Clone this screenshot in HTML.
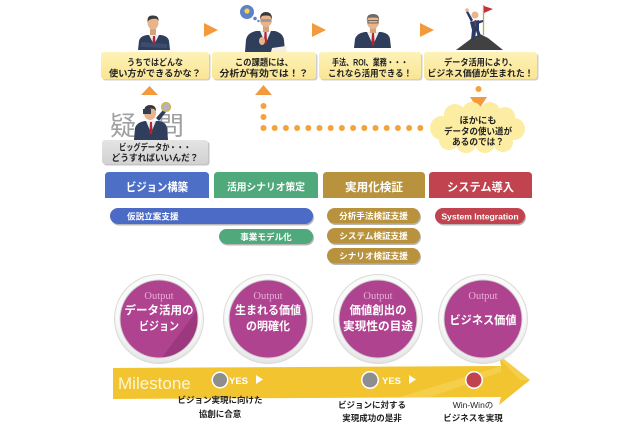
<!DOCTYPE html>
<html><head><meta charset="utf-8"><style>
html,body{margin:0;padding:0;background:#fff;}
svg{display:block}
text{font-family:"Liberation Sans","Noto Sans CJK JP",sans-serif;font-weight:bold;}
</style></head><body>
<svg width="640" height="426" viewBox="0 0 640 426" xmlns="http://www.w3.org/2000/svg">
<defs>
<linearGradient id="yb" x1="0" y1="0" x2="0" y2="1"><stop offset="0" stop-color="#FDF2B8"/><stop offset="1" stop-color="#FAE594"/></linearGradient>
<linearGradient id="gb" x1="0" y1="0" x2="0" y2="1"><stop offset="0" stop-color="#E4E4E4"/><stop offset="1" stop-color="#D2D2D2"/></linearGradient>
<radialGradient id="ring" cx="0.5" cy="0.4" r="0.6"><stop offset="0.8" stop-color="#FAFAFA"/><stop offset="1" stop-color="#E2E2E2"/></radialGradient>
<clipPath id="c1"><circle cx="159" cy="319" r="38.5"/></clipPath>
</defs>

<!-- person 1 -->
<g>
<path d="M138,50 L139,41 Q140,36 147,35 L161,35 Q168,36 169,41 L170,50 Z" fill="#2F3E5A"/>
<polygon points="149,35 159,35 154,45" fill="#E8EEF6"/>
<polygon points="153,36 155,36 155.6,44 154,46.5 152.4,44" fill="#B3262E"/>
<path d="M141,42 L167,44 L167,48 L141,47 Z" fill="#3C4E70"/>
<rect x="150" y="29" width="6" height="6" fill="#D9A177"/>
<ellipse cx="153" cy="23" rx="5.5" ry="6.5" fill="#E9B48A"/>
<path d="M147.5,22 Q147,15 153,15.5 Q159,15.5 158.5,21 L157,19 Q153,18 149,20 Z" fill="#3A3A3A"/>
</g>
<!-- person 2 -->
<g>
<circle cx="247" cy="12" r="7" fill="#5D82C8"/>
<circle cx="247" cy="11" r="2.6" fill="#F5D24A"/>
<circle cx="255" cy="18.5" r="1.8" fill="#5D82C8"/>
<circle cx="258.5" cy="21" r="1.2" fill="#5D82C8"/>
<path d="M245,52 L246,40 Q247,33 256,31 L275,31 Q283,33 284,40 L285,52 Z" fill="#2F3E5A"/>
<polygon points="260,31 271,31 265.5,44" fill="#E8EEF6"/>
<polygon points="264.5,32 266.5,32 267,42 265.5,45 264,42" fill="#B3262E"/>
<ellipse cx="262" cy="41" rx="3" ry="4" fill="#E9B48A"/>
<rect x="263" y="26" width="6" height="6" fill="#D9A177"/>
<ellipse cx="266" cy="20" rx="6" ry="7" fill="#E9B48A"/>
<path d="M260,19 Q260,12 266,12 Q272,12 272,19 L270,16 Q266,15 262,16 Z" fill="#3A3A3A"/>
<rect x="261" y="19" width="10" height="3" fill="#8895A8" opacity="0.8"/>
<polygon points="272,48 286,46 287,52 271,52" fill="#F4F1E4"/>
</g>
<!-- person 3 -->
<g>
<path d="M354,48 L355,39 Q357,33 365,32 L381,32 Q389,33 390,39 L391,48 Z" fill="#2F3E5A"/>
<polygon points="367,32 379,32 373,45" fill="#E8EEF6"/>
<polygon points="372,33 374,33 374.6,43 373,47 371.4,43" fill="#B3262E"/>
<rect x="370" y="27" width="6" height="6" fill="#D9A177"/>
<ellipse cx="373" cy="22" rx="6" ry="7" fill="#E9B48A"/>
<path d="M367,21 Q366,14 373,14 Q380,14 379,21 L378,18 Q373,17 368,18 Z" fill="#6A6A6A"/>
<rect x="368" y="20.5" width="10" height="2.5" fill="none" stroke="#555" stroke-width="0.8"/>
</g>
<!-- person 4 -->
<g>
<polygon points="456,50 472,38 480,34 488,38 503,50" fill="#414141"/>
<line x1="483.5" y1="5" x2="483.5" y2="35" stroke="#C9A24A" stroke-width="1.3"/>
<polygon points="484,6 493,9 484,13" fill="#C6303A"/>
<path d="M471,40 L472,30 L470,22 L479,20 L479,30 L481,36 L478,37 L476,31 L475,40 Z" fill="#2A3C66"/>
<path d="M471,22 L466,12 L468,11 L473,20 Z" fill="#2A3C66"/>
<path d="M478,21 L483,20 L483,22 L478,24 Z" fill="#2A3C66"/>
<circle cx="467" cy="10" r="1.8" fill="#E9B48A"/>
<circle cx="475" cy="15" r="3.5" fill="#E9B48A"/>
<polygon points="474.5,20 476,20 476,26 475,27" fill="#B3262E"/>
</g>

<!-- top right-pointing arrows -->
<polygon points="204,23 204,37 218,30" fill="#F39A3C"/>
<polygon points="312,23 312,37 326,30" fill="#F39A3C"/>
<polygon points="420,23 420,37 434,30" fill="#F39A3C"/>

<!-- top boxes -->
<rect x="102.5" y="53.5" width="108" height="27" rx="3" fill="#CFCFCF"/>
<rect x="101" y="52" width="108" height="27" rx="3" fill="url(#yb)"/>
<rect x="213.5" y="53.5" width="104" height="27" rx="3" fill="#CFCFCF"/>
<rect x="212" y="52" width="104" height="27" rx="3" fill="url(#yb)"/>
<rect x="320.5" y="53.5" width="102" height="27" rx="3" fill="#CFCFCF"/>
<rect x="319" y="52" width="102" height="27" rx="3" fill="url(#yb)"/>
<rect x="425.5" y="53.5" width="113" height="27" rx="3" fill="#CFCFCF"/>
<rect x="424" y="52" width="113" height="27" rx="3" fill="url(#yb)"/>
<g font-size="9" fill="#222" text-anchor="middle" lengthAdjust="spacingAndGlyphs">
<text x="155" y="65.5" textLength="56" lengthAdjust="spacingAndGlyphs">うちではどんな</text>
<text x="155" y="76.5" textLength="92" lengthAdjust="spacingAndGlyphs">使い方ができるかな？</text>
<text x="264" y="65.5" textLength="58" lengthAdjust="spacingAndGlyphs">この課題には、</text>
<text x="264" y="76.5" textLength="89" lengthAdjust="spacingAndGlyphs">分析が有効では！？</text>
<text x="370" y="65.5" textLength="76" lengthAdjust="spacingAndGlyphs">手法、ROI、業務・・・</text>
<text x="370" y="76.5" textLength="84" lengthAdjust="spacingAndGlyphs">これなら活用できる！</text>
<text x="480.5" y="65.5" textLength="73" lengthAdjust="spacingAndGlyphs">データ活用により、</text>
<text x="480.5" y="76.5" textLength="106" lengthAdjust="spacingAndGlyphs">ビジネス価値が生まれた！</text>
</g>

<!-- up arrows -->
<polygon points="141,95 158,95 149.5,86" fill="#F39A3C"/>
<polygon points="255,95 272,95 263.5,85" fill="#F39A3C"/>

<!-- dotted path -->
<g fill="#F6A23A">
<circle cx="263.5" cy="106" r="3"/>
<circle cx="263.5" cy="117" r="3"/>
<circle cx="263.5" cy="128" r="3"/>
<circle cx="274.7" cy="128" r="3"/>
<circle cx="285.9" cy="128" r="3"/>
<circle cx="297.1" cy="128" r="3"/>
<circle cx="308.3" cy="128" r="3"/>
<circle cx="319.5" cy="128" r="3"/>
<circle cx="330.7" cy="128" r="3"/>
<circle cx="341.9" cy="128" r="3"/>
<circle cx="353.1" cy="128" r="3"/>
<circle cx="364.3" cy="128" r="3"/>
<circle cx="375.5" cy="128" r="3"/>
<circle cx="386.7" cy="128" r="3"/>
<circle cx="397.9" cy="128" r="3"/>
<circle cx="409.1" cy="128" r="3"/>
<circle cx="420.3" cy="128" r="3"/>
<circle cx="478.5" cy="89" r="3"/>
</g>
<polygon points="470,97 487,97 478.5,110" fill="#F39A3C"/>

<!-- cloud -->
<g fill="#FCEDA2">
<ellipse cx="478" cy="128" rx="38" ry="18"/>
<circle cx="442" cy="128" r="12"/>
<circle cx="455" cy="115" r="11"/>
<circle cx="472" cy="112" r="10"/>
<circle cx="490" cy="112" r="10"/>
<circle cx="505" cy="117" r="10"/>
<circle cx="514" cy="129" r="11"/>
<circle cx="503" cy="142" r="10"/>
<circle cx="485" cy="143" r="10"/>
<circle cx="466" cy="143" r="10"/>
<circle cx="449" cy="140" r="10"/>
</g>
<g font-size="9" fill="#222" text-anchor="middle">
<text x="478" y="123.5" textLength="37" lengthAdjust="spacingAndGlyphs">ほかにも</text>
<text x="478" y="134.5" textLength="68" lengthAdjust="spacingAndGlyphs">データの使い道が</text>
<text x="478" y="145" textLength="52" lengthAdjust="spacingAndGlyphs">あるのでは？</text>
</g>

<!-- 疑問 person -->
<g>
<text x="110" y="135" font-size="26" fill="#A0A0A0" style="font-weight:normal">疑</text>
<text x="158" y="135" font-size="26" fill="#A0A0A0" style="font-weight:normal">問</text>
<path d="M134,140 L135,128 Q137,122 145,121 L159,121 Q166,122 167,128 L168,140 Z" fill="#2F3E5A"/>
<polygon points="146,121 156,121 151,133" fill="#E8EEF6"/>
<polygon points="150,122 152,122 152.5,132 151,135 149.5,132" fill="#B3262E"/>
<ellipse cx="150" cy="113" rx="6" ry="7" fill="#E9B48A"/>
<path d="M144,112 Q144,105 150,105 Q156,105 156,111 L154,109 Q150,108 146,110 Z" fill="#3A3A3A"/>
<path d="M156,118 L163,110 L166,112 L159,121 Z" fill="#2F3E5A"/>
<rect x="143" y="109" width="8" height="5" fill="#2F3E5A"/>
<circle cx="166" cy="107" r="4.5" fill="#B5B5B5" stroke="#D6B24A" stroke-width="1.2"/>
</g>
<!-- gray box -->
<rect x="103.5" y="141.5" width="106" height="24" rx="3" fill="#C4C4C4"/>
<rect x="102" y="140" width="106" height="24" rx="3" fill="url(#gb)"/>
<g font-size="9" fill="#222" text-anchor="middle">
<text x="155" y="150.5" textLength="72" lengthAdjust="spacingAndGlyphs">ビッグデータか・・・</text>
<text x="155" y="161" textLength="87" lengthAdjust="spacingAndGlyphs">どうすればいいんだ？</text>
</g>

<!-- phase headers -->
<path d="M105,198 L105,176 Q105,172 109,172 L205,172 Q209,172 209,176 L209,198 Z" fill="#4D6FC6"/>
<path d="M214,198 L214,176 Q214,172 218,172 L314,172 Q318,172 318,176 L318,198 Z" fill="#4FA97B"/>
<path d="M323,198 L323,176 Q323,172 327,172 L421,172 Q425,172 425,176 L425,198 Z" fill="#B8923C"/>
<path d="M429,198 L429,176 Q429,172 433,172 L528,172 Q532,172 532,176 L532,198 Z" fill="#C1434F"/>
<g fill="#fff" text-anchor="middle">
<text x="157" y="191" font-size="11.5" textLength="62" lengthAdjust="spacingAndGlyphs">ビジョン構築</text>
<text x="266" y="190.5" font-size="10" textLength="78" lengthAdjust="spacingAndGlyphs">活用シナリオ策定</text>
<text x="374" y="191" font-size="11.5" textLength="58" lengthAdjust="spacingAndGlyphs">実用化検証</text>
<text x="480.5" y="191" font-size="11.5" textLength="67" lengthAdjust="spacingAndGlyphs">システム導入</text>
</g>

<!-- pills -->
<g opacity="0.35">
<rect x="111" y="209.5" width="203" height="16" rx="8" fill="#333"/>
<rect x="220" y="230.5" width="94" height="15" rx="7.5" fill="#333"/>
<rect x="328" y="209.5" width="93" height="15.5" rx="7.7" fill="#333"/>
<rect x="328" y="229.5" width="93" height="15.5" rx="7.7" fill="#333"/>
<rect x="328" y="249.5" width="93" height="15.5" rx="7.7" fill="#333"/>
<rect x="436" y="209.5" width="90" height="16" rx="8" fill="#333"/>
</g>
<rect x="110" y="208" width="203" height="16" rx="8" fill="#4B6BC6"/>
<rect x="219" y="229" width="94" height="15" rx="7.5" fill="#4FA97B"/>
<rect x="327" y="208" width="93" height="15.5" rx="7.7" fill="#B8923C"/>
<rect x="327" y="228" width="93" height="15.5" rx="7.7" fill="#B8923C"/>
<rect x="327" y="248" width="93" height="15.5" rx="7.7" fill="#B8923C"/>
<rect x="435" y="208" width="90" height="16" rx="8" fill="#C1434F"/>
<g fill="#fff" font-size="8.6">
<text x="127" y="219.3">仮説立案支援</text>
<text x="266" y="240" text-anchor="middle">事業モデル化</text>
<text x="373.5" y="219" text-anchor="middle">分析手法検証支援</text>
<text x="373.5" y="239" text-anchor="middle">システム検証支援</text>
<text x="373.5" y="259" text-anchor="middle">シナリオ検証支援</text>
<text x="480" y="219.3" text-anchor="middle">System Integration</text>
</g>

<!-- milestone arrow -->
<polygon points="113,368 501,366 499,355 530,380 499,405 501,397 113,399" fill="#F1C430"/>
<polygon points="400,397 501,366 501,372 430,397" fill="#F6D456" opacity="0.7"/>
<polygon points="499,355 530,380 520,380 503,362" fill="#F6D456" opacity="0.7"/>

<!-- output circles -->
<g>
<circle cx="159" cy="319" r="45" fill="#DADADA"/>
<circle cx="159" cy="319" r="44" fill="url(#ring)"/>
<circle cx="159" cy="319" r="39.5" fill="#CFCFCF"/>
<circle cx="159" cy="319" r="38.5" fill="#B0438F"/>
<polygon points="160,360 205,300 205,320 180,360" fill="#8E2F73" opacity="0.55" clip-path="url(#c1)"/>
<circle cx="268" cy="319" r="45" fill="#DADADA"/>
<circle cx="268" cy="319" r="44" fill="url(#ring)"/>
<circle cx="268" cy="319" r="39.5" fill="#CFCFCF"/>
<circle cx="268" cy="319" r="38.5" fill="#B0438F"/>
<circle cx="378" cy="319" r="45" fill="#DADADA"/>
<circle cx="378" cy="319" r="44" fill="url(#ring)"/>
<circle cx="378" cy="319" r="39.5" fill="#CFCFCF"/>
<circle cx="378" cy="319" r="38.5" fill="#B0438F"/>
<circle cx="483" cy="319" r="45" fill="#DADADA"/>
<circle cx="483" cy="319" r="44" fill="url(#ring)"/>
<circle cx="483" cy="319" r="39.5" fill="#CFCFCF"/>
<circle cx="483" cy="319" r="38.5" fill="#B0438F"/>
</g>
<g font-size="10.5" fill="#E8AED6" text-anchor="middle">
<text x="159" y="299" style="font-family:'Liberation Serif',serif;font-weight:normal">Output</text>
<text x="268" y="299" style="font-family:'Liberation Serif',serif;font-weight:normal">Output</text>
<text x="378" y="299" style="font-family:'Liberation Serif',serif;font-weight:normal">Output</text>
<text x="483" y="299" style="font-family:'Liberation Serif',serif;font-weight:normal">Output</text>
</g>
<g font-size="11.5" fill="#fff" text-anchor="middle">
<text x="159" y="314" textLength="69" lengthAdjust="spacingAndGlyphs">データ活用の</text>
<text x="159" y="330" textLength="40" lengthAdjust="spacingAndGlyphs">ビジョン</text>
<text x="268" y="314" textLength="66" lengthAdjust="spacingAndGlyphs">生まれる価値</text>
<text x="268" y="330" textLength="44" lengthAdjust="spacingAndGlyphs">の明確化</text>
<text x="378" y="314" textLength="57" lengthAdjust="spacingAndGlyphs">価値創出の</text>
<text x="378" y="330" textLength="70" lengthAdjust="spacingAndGlyphs">実現性の目途</text>
<text x="483" y="324" textLength="67" lengthAdjust="spacingAndGlyphs">ビジネス価値</text>
</g>

<!-- milestone markers -->
<text x="118" y="389" font-size="17" fill="#FFF6D2" style="font-weight:normal">Milestone</text>
<circle cx="220" cy="380" r="8.5" fill="#fff"/>
<circle cx="220" cy="380" r="7" fill="#8E8E8E"/>
<text x="229" y="384" font-size="9.5" fill="#fff">YES</text>
<polygon points="256,375 256,384 263,379.5" fill="#fff"/>
<circle cx="370" cy="380" r="9" fill="#fff"/>
<circle cx="370" cy="380" r="7.5" fill="#8E8E8E"/>
<text x="382" y="384" font-size="9.5" fill="#fff">YES</text>
<polygon points="409,375 409,384 416,379.5" fill="#fff"/>
<circle cx="474" cy="380" r="9" fill="#fff"/>
<circle cx="474" cy="380" r="7.5" fill="#C1434F"/>

<g font-size="8.5" fill="#222" text-anchor="middle">
<text x="220" y="403">ビジョン実現に向けた</text>
<text x="220" y="417">協創に合意</text>
<text x="372" y="408">ビジョンに対する</text>
<text x="372" y="421">実現成功の是非</text>
<text x="473" y="408" style="font-weight:normal">Win-Winの</text>
<text x="473" y="421">ビジネスを実現</text>
</g>
</svg>
</body></html>
